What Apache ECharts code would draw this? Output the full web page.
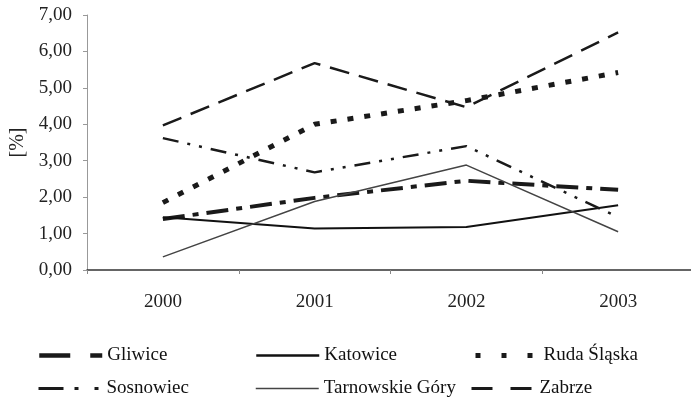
<!DOCTYPE html>
<html>
<head>
<meta charset="utf-8">
<script src="https://cdn.jsdelivr.net/npm/echarts@6/dist/echarts.min.js"></script>
<style>
	html, body { margin: 0; padding: 0; background: #fff; }
	#chart { width: 691px; height: 398px; }
</style>
</head>
<body>
<div id="chart"></div>
<script>
var years = ['2000', '2001', '2002', '2003'];

var gliwice = [1.40, 1.98, 2.45, 2.20];
var katowice = [1.45, 1.14, 1.18, 1.78];
var rudaSlaska = [1.85, 4.00, 4.65, 5.42];
var sosnowiec = [3.62, 2.68, 3.40, 1.45];
var tarnowskieGory = [0.36, 1.88, 2.88, 1.05];
var zabrze = [3.97, 5.68, 4.47, 6.52];

var yTicks = ['0,00', '1,00', '2,00', '3,00', '4,00', '5,00', '6,00', '7,00'];

var FONT = '"Liberation Serif", "DejaVu Serif", serif';

var myChart = echarts.init(document.getElementById('chart'));

// one line series, style passed in
function lineSeries(name, data, color, width, dash) {
	return {
		name: name,
		type: 'line',
		data: data,
		symbol: 'none',
		animation: false,
		lineStyle: {
			color: color,
			width: width,
			type: dash || 'solid',
			cap: 'butt'
		},
		itemStyle: { color: color }
	};
}

// each legend item placed on its own (two rows of three),
// with its own dash pattern so the short sample looks like the original
function legendItem(name, left, top, color, width, dash) {
	return {
		data: [name],
		left: left,
		top: top,
		itemWidth: 63,
		itemHeight: 14,
		itemGap: 0,
		selectedMode: false,
		itemStyle: { opacity: 0 },
		lineStyle: {
			color: color,
			width: width,
			type: dash || 'solid',
			cap: 'butt',
			opacity: 1
		},
		textStyle: {
			fontFamily: FONT,
			fontSize: 19,
			color: '#111'
		}
	};
}

var row1 = 341;
var row2 = 374;

var option = {
	backgroundColor: '#fff',
	animation: false,
	grid: {
		left: 87,
		right: -3,
		top: 15,
		bottom: 128,
		outerBoundsMode: 'none',
		containLabel: false
	},
	xAxis: {
		type: 'category',
		data: years,
		boundaryGap: true,
		axisLine: { lineStyle: { color: '#333', width: 1.5 } },
		axisTick: { show: true, length: 4, lineStyle: { color: '#888' } },
		axisLabel: {
			margin: 23,
			fontFamily: FONT,
			fontSize: 19,
			color: '#222'
		}
	},
	yAxis: {
		type: 'value',
		min: 0,
		max: 7,
		interval: 1,
		name: '[%]',
		nameLocation: 'middle',
		nameRotate: 90,
		nameGap: 58,
		nameTextStyle: {
			fontFamily: FONT,
			fontSize: 20,
			color: '#222'
		},
		splitLine: { show: false },
		axisLine: { show: true, lineStyle: { color: '#999', width: 1 } },
		axisTick: { show: true, length: 4, lineStyle: { color: '#999' } },
		axisLabel: {
			margin: 15,
			fontFamily: FONT,
			fontSize: 19,
			color: '#222',
			formatter: function (v) { return yTicks[v]; }
		}
	},
	legend: [
		legendItem('Gliwice', 32, row1, '#1a1a1a', 4.5, [31, 20, 12, 1]),
		legendItem('Katowice', 250, row1, '#111', 2.5),
		legendItem('Ruda Śląska', 468, row1, '#1a1a1a', 5, [5, 21]),
		legendItem('Sosnowiec', 32, row2, '#1a1a1a', 3, [25, 11, 4, 16, 4, 4]),
		legendItem('Tarnowskie Góry', 250, row2, '#444', 1.5),
		legendItem('Zabrze', 465, row2, '#1a1a1a', 3, [21, 18])
	],
	series: [
		lineSeries('Gliwice', gliwice, '#1a1a1a', 4, [22, 8, 6, 8]),
		lineSeries('Katowice', katowice, '#111', 2),
		lineSeries('Ruda Śląska', rudaSlaska, '#1a1a1a', 5, [6, 11]),
		lineSeries('Sosnowiec', sosnowiec, '#1a1a1a', 2.5, [16, 9, 3, 9, 3, 9]),
		lineSeries('Tarnowskie Góry', tarnowskieGory, '#444', 1.5),
		lineSeries('Zabrze', zabrze, '#1a1a1a', 2.5, [20, 10])
	]
};

myChart.setOption(option);
</script>
</body>
</html>
